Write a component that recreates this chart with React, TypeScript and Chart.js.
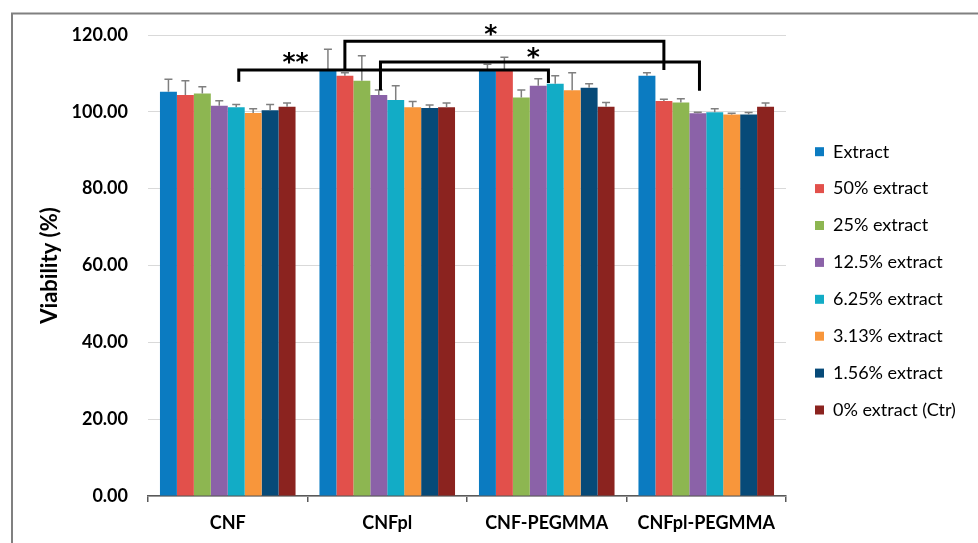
import React, { useEffect, useRef } from 'react';
import { Chart, registerables } from 'chart.js';

Chart.register(...registerables);

const categories = ['CNF', 'CNFpl', 'CNF-PEGMMA', 'CNFpl-PEGMMA'];
const seriesLabels = [
  'Extract',
  '50% extract',
  '25% extract',
  '12.5% extract',
  '6.25% extract',
  '3.13% extract',
  '1.56% extract',
  '0% extract (Ctr)',
];
const seriesColors = ['#0B7BC1', '#E2504B', '#8DB651', '#8B62A8', '#12ACC6', '#F8963B', '#074A78', '#8B231F'];

const extractValues = [105.2, 110.7, 110.6, 109.4];
const ext50Values = [104.4, 109.4, 110.6, 102.8];
const ext25Values = [104.8, 108.1, 103.7, 102.4];
const ext12Values = [101.6, 104.4, 106.8, 99.6];
const ext6Values = [101.2, 103.1, 107.3, 99.9];
const ext3Values = [99.7, 101.2, 105.6, 99.3];
const ext1Values = [100.4, 101.0, 106.3, 99.3];
const ctrValues = [101.3, 101.2, 101.3, 101.3];

const extractErrors = [3.3, 5.6, 1.8, 0.8];
const ext50Errors = [3.7, 0.8, 3.6, 0.5];
const ext25Errors = [1.7, 6.5, 2.0, 1.0];
const ext12Errors = [1.3, 1.3, 1.8, 0.3];
const ext6Errors = [0.7, 3.7, 2.1, 0.9];
const ext3Errors = [1.1, 1.5, 4.6, 0.3];
const ext1Errors = [1.5, 0.8, 1.0, 0.5];
const ctrErrors = [1.0, 1.1, 1.1, 1.0];

const seriesValues = [extractValues, ext50Values, ext25Values, ext12Values, ext6Values, ext3Values, ext1Values, ctrValues];
const seriesErrors = [extractErrors, ext50Errors, ext25Errors, ext12Errors, ext6Errors, ext3Errors, ext1Errors, ctrErrors];

const yMin = 0;
const yMax = 120;
const yStep = 20;

// significance brackets: endpoints given as (category, bar slot) and heights in data units
const brackets = [
  { fromCat: 0, fromSlot: 4.65, toCat: 2, toSlot: 4.1, top: 110.9, leftEnd: 107.8, rightEnd: 107.5 },
  { fromCat: 1, fromSlot: 1.5, toCat: 3, toSlot: 1.5, top: 118.4, leftEnd: 110.9, rightEnd: 110.9 },
  { fromCat: 1, fromSlot: 3.6, toCat: 3, toSlot: 3.6, top: 113.0, leftEnd: 105.6, rightEnd: 105.5 },
];
const starLabels = [
  { text: '**', cat: 0, slot: 8.0, value: 114.1 },
  { text: '*', cat: 2, slot: 0.7, value: 121.2 },
  { text: '*', cat: 2, slot: 3.2, value: 115.3 },
];

const FONT = 'Lato';

function slotX(chart: any, cat: number, slot: number) {
  const el = chart.getDatasetMeta(0).data[cat];
  const bw = el.width;
  const start = el.x - bw / 2;
  return start + slot * bw;
}

const decorPlugin = {
  id: 'decor',
  beforeDraw(chart: any) {
    const ctx = chart.ctx;
    ctx.save();
    ctx.fillStyle = '#ffffff';
    ctx.fillRect(0, 0, chart.width, chart.height);
    ctx.strokeStyle = '#808080';
    ctx.lineWidth = 2;
    ctx.beginPath();
    ctx.moveTo(12, chart.height);
    ctx.lineTo(12, 13.5);
    ctx.lineTo(chart.width, 13.5);
    ctx.stroke();
    ctx.restore();
  },
  afterDatasetsDraw(chart: any) {
    const ctx = chart.ctx;
    const y = chart.scales.y;
    ctx.save();
    // error bars (upper half)
    ctx.strokeStyle = '#7f7f7f';
    ctx.lineWidth = 1.5;
    seriesErrors.forEach((errs, d) => {
      const meta = chart.getDatasetMeta(d);
      errs.forEach((e, i) => {
        const el = meta.data[i];
        const top = y.getPixelForValue(seriesValues[d][i] + e);
        ctx.beginPath();
        ctx.moveTo(el.x, el.y);
        ctx.lineTo(el.x, top);
        ctx.moveTo(el.x - 4, top);
        ctx.lineTo(el.x + 4, top);
        ctx.stroke();
      });
    });
    // brackets
    ctx.strokeStyle = '#000000';
    ctx.lineWidth = 3;
    ctx.lineJoin = 'miter';
    brackets.forEach((b) => {
      const x1 = slotX(chart, b.fromCat, b.fromSlot);
      const x2 = slotX(chart, b.toCat, b.toSlot);
      ctx.beginPath();
      ctx.moveTo(x1, y.getPixelForValue(b.leftEnd));
      ctx.lineTo(x1, y.getPixelForValue(b.top));
      ctx.lineTo(x2, y.getPixelForValue(b.top));
      ctx.lineTo(x2, y.getPixelForValue(b.rightEnd));
      ctx.stroke();
    });
    // stars
    ctx.fillStyle = '#000000';
    ctx.font = 'bold 25px "DejaVu Sans"';
    ctx.textAlign = 'center';
    ctx.textBaseline = 'alphabetic';
    starLabels.forEach((s) => {
      const m = ctx.measureText(s.text);
      const cx = slotX(chart, s.cat, s.slot);
      const cy = y.getPixelForValue(s.value);
      const off = (m.actualBoundingBoxAscent - m.actualBoundingBoxDescent) / 2;
      ctx.fillText(s.text, cx, cy + off);
    });
    ctx.restore();
  },
  afterDraw(chart: any) {
    const ctx = chart.ctx;
    ctx.save();
    ctx.font = `18px ${FONT}`;
    ctx.textBaseline = 'middle';
    ctx.textAlign = 'left';
    seriesLabels.forEach((label, i) => {
      const cy = 151.7 + i * 36.9;
      ctx.fillStyle = seriesColors[i];
      ctx.fillRect(815, cy - 4.5, 9, 9);
      ctx.fillStyle = '#000000';
      ctx.fillText(label, 833, cy);
    });
    ctx.restore();
  },
};

export default function App() {
  const ref = useRef<HTMLCanvasElement | null>(null);
  useEffect(() => {
    if (!ref.current) return;
    const chart = new Chart(ref.current, {
      type: 'bar',
      data: {
        labels: categories,
        datasets: seriesLabels.map((label, i) => ({
          label,
          data: seriesValues[i],
          backgroundColor: seriesColors[i],
          borderWidth: 0,
          categoryPercentage: 0.85,
          barPercentage: 1.0,
        })),
      },
      options: {
        responsive: false,
        animation: false,
        layout: { padding: { left: 0, right: 192, top: 35, bottom: 0 } },
        plugins: { legend: { display: false }, tooltip: { enabled: false } },
        scales: {
          x: {
            offset: true,
            grid: { display: true, drawOnChartArea: false, drawTicks: true, tickLength: 6, color: '#595959', lineWidth: 1.5, offset: true },
            border: { display: true, color: '#595959', width: 1.5 },
            ticks: { color: '#000000', padding: 10, font: { family: FONT, size: 18, weight: 'bold' } },
            afterFit: (s: any) => { s.height = 47; },
          },
          y: {
            min: yMin,
            max: yMax,
            grid: { color: '#d9d9d9', lineWidth: 1, drawTicks: false },
            border: { display: false },
            ticks: {
              stepSize: yStep,
              padding: 20,
              color: '#000000',
              font: { family: FONT, size: 18, weight: 'bold' },
              callback: (v: any) => Number(v).toFixed(2),
            },
            title: {
              display: true,
              text: 'Viability (%)',
              color: '#000000',
              font: { family: FONT, size: 22, weight: 'bold' },
              padding: { top: 37, bottom: 0 },
            },
            afterFit: (s: any) => { s.width = 148; },
          },
        },
      },
      plugins: [decorPlugin],
    });
    return () => chart.destroy();
  }, []);
  return (
    <div style={{ position: 'fixed', left: 0, top: 0, width: 978, height: 543, background: '#fff' }}>
      <canvas ref={ref} width={978} height={543} style={{ width: 978, height: 543, display: 'block' }} />
    </div>
  );
}
